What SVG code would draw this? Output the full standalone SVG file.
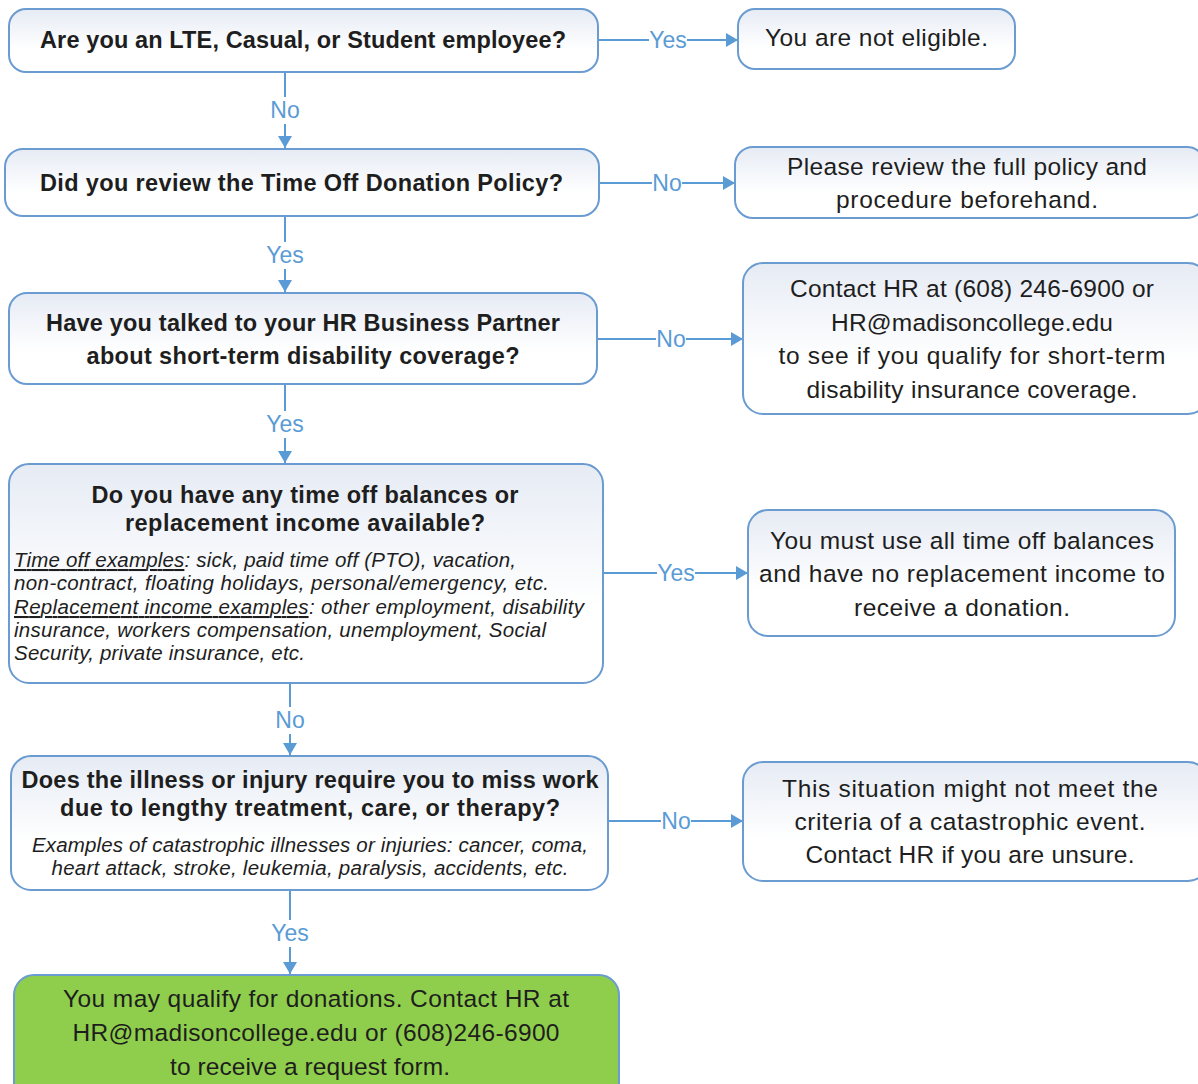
<svg xmlns="http://www.w3.org/2000/svg" width="1198" height="1084" viewBox="0 0 1198 1084">
<defs>
<linearGradient id="bg" x1="0" y1="0" x2="0" y2="1">
<stop offset="0" stop-color="#e6ebf4"/>
<stop offset="0.65" stop-color="#ffffff"/>
<stop offset="1" stop-color="#ffffff"/>
</linearGradient>
<marker id="ah" viewBox="0 0 12 14" refX="12" refY="7" markerWidth="12" markerHeight="14" markerUnits="userSpaceOnUse" orient="auto">
<path d="M0,0 L12,7 L0,14 z" fill="#5b9bd5"/>
</marker>
<style>
.box{fill:url(#bg);stroke:#6a9bd1;stroke-width:2}
.green{fill:#8fce4c;stroke:#6a9bd1;stroke-width:2}
.t{font-family:"Liberation Sans",Arial,sans-serif;fill:#1e1e1e}
.b{font-weight:bold;font-size:23.5px;text-anchor:middle}
.r{font-size:24.5px;text-anchor:middle}
.i{font-style:italic;font-size:20.5px}
.u{text-decoration:underline}
.c{text-anchor:middle}
.ln{stroke:#5b9bd5;stroke-width:2;fill:none;marker-end:url(#ah)}
.gap{fill:#ffffff}
.lb{font-family:"Liberation Sans",Arial,sans-serif;font-size:23px;fill:#5b9bd5;text-anchor:middle}
</style>
</defs>
<rect width="1198" height="1084" fill="#ffffff"/>

<g id="connectors">
<line class="ln" x1="598" y1="40" x2="738" y2="40"/>
<line class="ln" x1="599" y1="183" x2="735" y2="183"/>
<line class="ln" x1="597" y1="339" x2="743" y2="339"/>
<line class="ln" x1="603" y1="573" x2="748" y2="573"/>
<line class="ln" x1="608" y1="821" x2="743" y2="821"/>
<line class="ln" x1="285" y1="72" x2="285" y2="148"/>
<line class="ln" x1="285" y1="216" x2="285" y2="292"/>
<line class="ln" x1="285" y1="384" x2="285" y2="463"/>
<line class="ln" x1="290" y1="683" x2="290" y2="755"/>
<line class="ln" x1="290" y1="890" x2="290" y2="974"/>
<rect class="gap" x="649" y="30" width="38" height="20"/>
<rect class="gap" x="652" y="173" width="30" height="20"/>
<rect class="gap" x="656" y="329" width="30" height="20"/>
<rect class="gap" x="657" y="563" width="38" height="20"/>
<rect class="gap" x="661" y="811" width="30" height="20"/>
<rect class="gap" x="268" y="97" width="34" height="27"/>
<rect class="gap" x="265" y="242" width="40" height="27"/>
<rect class="gap" x="265" y="411" width="40" height="27"/>
<rect class="gap" x="273" y="707" width="34" height="27"/>
<rect class="gap" x="270" y="920" width="40" height="27"/>
<text class="lb" x="668" y="48">Yes</text>
<text class="lb" x="667" y="191">No</text>
<text class="lb" x="671" y="347">No</text>
<text class="lb" x="676" y="581">Yes</text>
<text class="lb" x="676" y="829">No</text>
<text class="lb" x="285" y="118">No</text>
<text class="lb" x="285" y="263">Yes</text>
<text class="lb" x="285" y="432">Yes</text>
<text class="lb" x="290" y="728">No</text>
<text class="lb" x="290" y="941">Yes</text>
</g>

<g id="q1">
<rect class="box" x="9" y="9" width="589" height="63" rx="17"/>
<text class="t b" x="303" y="48" textLength="526">Are you an LTE, Casual, or Student employee?</text>
</g>
<g id="a1">
<rect class="box" x="738" y="9" width="277" height="60" rx="17"/>
<text class="t r" x="876.5" y="46" textLength="223">You are not eligible.</text>
</g>

<g id="q2">
<rect class="box" x="5" y="149" width="594" height="67" rx="18"/>
<text class="t b" x="301.5" y="191" textLength="523">Did you review the Time Off Donation Policy?</text>
</g>
<g id="a2">
<rect class="box" x="735" y="147" width="470" height="71" rx="18"/>
<text class="t r" x="967" y="175" textLength="360">Please review the full policy and</text>
<text class="t r" x="967" y="208" textLength="262">procedure beforehand.</text>
</g>

<g id="q3">
<rect class="box" x="9" y="293" width="588" height="91" rx="18"/>
<text class="t b" x="303" y="331" textLength="514">Have you talked to your HR Business Partner</text>
<text class="t b" x="303" y="364" textLength="433">about short-term disability coverage?</text>
</g>
<g id="a3">
<rect class="box" x="743" y="263" width="465" height="151" rx="20"/>
<text class="t r" x="972" y="297" textLength="364">Contact HR at (608) 246-6900 or</text>
<text class="t r" x="972" y="331" textLength="282">HR@madisoncollege.edu</text>
<text class="t r" x="972" y="364" textLength="387">to see if you qualify for short-term</text>
<text class="t r" x="972" y="398" textLength="331">disability insurance coverage.</text>
</g>

<g id="q4">
<rect class="box" x="9" y="464" width="594" height="219" rx="20"/>
<text class="t b" x="305" y="503" textLength="427">Do you have any time off balances or</text>
<text class="t b" x="305" y="531" textLength="360">replacement income available?</text>
<text class="t i" x="14" y="567" textLength="502"><tspan class="u">Time off examples</tspan>: sick, paid time off (PTO), vacation,</text>
<text class="t i" x="14" y="590" textLength="535">non-contract, floating holidays, personal/emergency, etc.</text>
<text class="t i" x="14" y="614" textLength="570"><tspan class="u">Replacement income examples</tspan>: other employment, disability</text>
<text class="t i" x="14" y="637" textLength="532">insurance, workers compensation, unemployment, Social</text>
<text class="t i" x="14" y="660" textLength="291">Security, private insurance, etc.</text>
</g>
<g id="a4">
<rect class="box" x="748" y="510" width="427" height="126" rx="20"/>
<text class="t r" x="962" y="549" textLength="384">You must use all time off balances</text>
<text class="t r" x="962" y="582" textLength="406">and have no replacement income to</text>
<text class="t r" x="962" y="616" textLength="216">receive a donation.</text>
</g>

<g id="q5">
<rect class="box" x="11" y="756" width="597" height="134" rx="20"/>
<text class="t b" x="310" y="788" textLength="577">Does the illness or injury require you to miss work</text>
<text class="t b" x="310" y="816" textLength="500">due to lengthy treatment, care, or therapy?</text>
<text class="t i c" x="310" y="852" textLength="556">Examples of catastrophic illnesses or injuries: cancer, coma,</text>
<text class="t i c" x="310" y="875" textLength="517">heart attack, stroke, leukemia, paralysis, accidents, etc.</text>
</g>
<g id="a5">
<rect class="box" x="743" y="762" width="465" height="119" rx="20"/>
<text class="t r" x="970" y="797" textLength="376">This situation might not meet the</text>
<text class="t r" x="970" y="830" textLength="351">criteria of a catastrophic event.</text>
<text class="t r" x="970" y="863" textLength="329">Contact HR if you are unsure.</text>
</g>

<g id="result">
<rect class="green" x="14" y="975" width="605" height="130" rx="20"/>
<text class="t r" x="316" y="1007" textLength="506">You may qualify for donations. Contact HR at</text>
<text class="t r" x="316" y="1041" textLength="487">HR@madisoncollege.edu or (608)246-6900</text>
<text class="t r" x="310" y="1075" textLength="280">to receive a request form.</text>
</g>
</svg>
